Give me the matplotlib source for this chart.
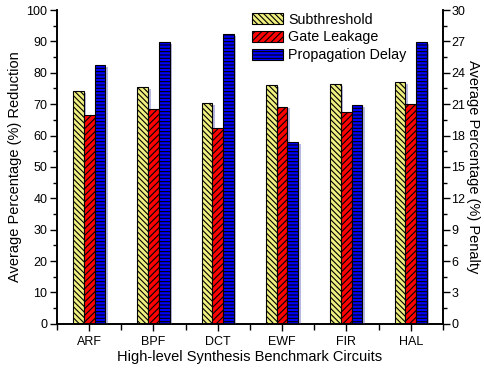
import numpy as np
import matplotlib.pyplot as plt
from matplotlib.transforms import offset_copy
from matplotlib.ticker import MultipleLocator

plt.rcParams['font.family'] = ['Liberation Sans', 'DejaVu Sans']
plt.rcParams['hatch.linewidth'] = 0.8

circuits = ['ARF', 'BPF', 'DCT', 'EWF', 'FIR', 'HAL']
subthreshold = [74.2, 75.5, 70.4, 76.1, 76.4, 77.1]
gate_leakage = [66.6, 68.5, 62.4, 69.2, 67.6, 70.0]
prop_delay = [24.7, 26.9, 27.7, 17.4, 20.9, 26.9]   # penalty, right axis

x = np.arange(len(circuits))
w = 0.167

fig = plt.figure(figsize=(4.85, 3.71), dpi=100)
ax = fig.add_axes([0.1175, 0.127, 0.7955, 0.846])
ax2 = ax.twinx()

# soft drop shadows behind bars
sh1 = offset_copy(ax.transData, fig=fig, x=1.8, y=-1.2, units='points')
sh2 = offset_copy(ax2.transData, fig=fig, x=1.8, y=-1.2, units='points')
ax.bar(x - w, subthreshold, w, color='#b8b8e0', linewidth=0, transform=sh1, zorder=1)
ax.bar(x, gate_leakage, w, color='#b8b8e0', linewidth=0, transform=sh1, zorder=1)
ax2.bar(x + w, prop_delay, w, color='#b8b8e0', linewidth=0, transform=sh2, zorder=1)

b1 = ax.bar(x - w, subthreshold, w, color='#f0f080', edgecolor='black', linewidth=0.8,
            hatch='\\\\\\\\\\\\', label='Subthreshold', zorder=2)
b2 = ax.bar(x, gate_leakage, w, color='#ff0000', edgecolor='black', linewidth=0.8,
            hatch='/////', label='Gate Leakage', zorder=2)
b3 = ax2.bar(x + w, prop_delay, w, color='#0000ff', edgecolor='black', linewidth=0.8,
             hatch='-----', label='Propagation Delay', zorder=2)

ax.set_xlim(-0.5, 5.5)
ax.set_ylim(0, 100)
ax2.set_ylim(0, 30)
ax.set_xticks(x)
ax.set_xticklabels(circuits)
ax.xaxis.set_minor_locator(MultipleLocator(0.5))
ax.yaxis.set_major_locator(MultipleLocator(10))
ax.yaxis.set_minor_locator(MultipleLocator(5))
ax2.yaxis.set_major_locator(MultipleLocator(3))
ax2.yaxis.set_minor_locator(MultipleLocator(1.5))

for a in (ax, ax2):
    a.spines['top'].set_visible(False)
    for s in a.spines.values():
        s.set_linewidth(1.2)
    a.tick_params(which='major', length=5, width=1.0, labelsize=9, direction='out')
    a.tick_params(which='minor', length=3, width=1.0, direction='out')
ax.tick_params(axis='x', which='minor', length=4)
ax2.tick_params(axis='y', pad=1)
ax.tick_params(axis='y', pad=2)

ax.set_xlabel('High-level Synthesis Benchmark Circuits', fontsize=10.5, labelpad=2)
ax.set_ylabel('Average Percentage (%) Reduction', fontsize=10.5, labelpad=3)
ax2.set_ylabel('Average Percentage (%) Penalty', fontsize=10.5, rotation=270, labelpad=11)

ax.legend([b1, b2, b3], ['Subthreshold', 'Gate Leakage', 'Propagation Delay'],
          loc='upper left', bbox_to_anchor=(0.49, 1.01), frameon=False, fontsize=10.3,
          handlelength=2.2, handleheight=0.8, handletextpad=0.35, labelspacing=0.26,
          borderaxespad=0)

fig.savefig('out.png', dpi=100)
